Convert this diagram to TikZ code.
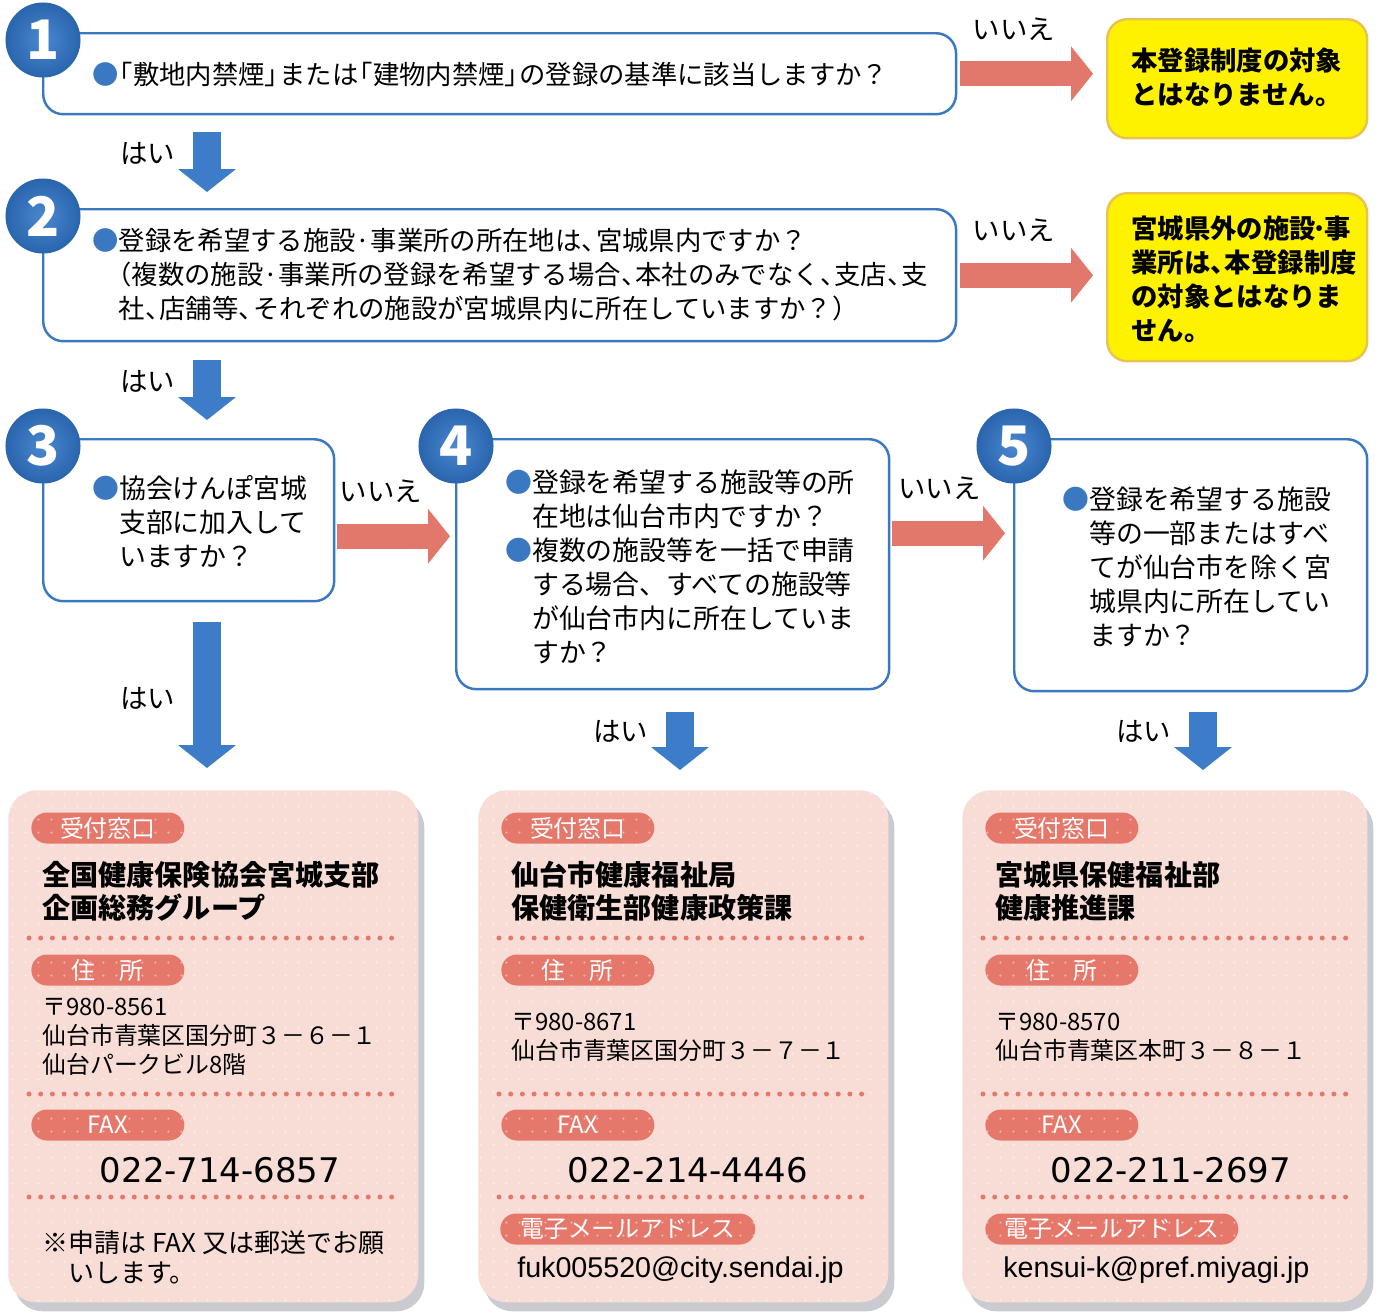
\documentclass[tikz,border=0pt]{standalone}
\usepackage{fontspec}
\setmainfont{Noto Sans CJK JP}
\newfontfamily\numfont{DejaVu Sans}
\newfontfamily\mailfont{Liberation Sans}
\usepackage{xcolor}
\usepackage{tikz}
\usetikzlibrary{calc,positioning,arrows.meta,shadows,patterns.meta}

\definecolor{qblue}{HTML}{3B78C2}
\definecolor{numblue}{HTML}{2A65AE}
\definecolor{numlight}{HTML}{4A88D0}
\definecolor{yesblue}{HTML}{3D7CC9}
\definecolor{nored}{HTML}{E2786C}
\definecolor{stopfill}{HTML}{FFF200}
\definecolor{stopline}{HTML}{E9C352}
\definecolor{deskfill}{HTML}{F8DDD6}
\definecolor{deskshadow}{HTML}{C9CBD0}
\definecolor{tagfill}{HTML}{E5786A}

\newcommand{\qmark}{{\color{qblue}●}}
\newcommand{\hk}{\hspace{-0.45em}}

\tikzset{
    qbox/.style={draw=qblue, line width=1.4pt, fill=white, rounded corners=0.4cm, anchor=north west, inner sep=0pt},
    stopbox/.style={draw=stopline, line width=1.4pt, fill=stopfill, rounded corners=0.4cm, anchor=north west, inner sep=0pt},
    numcirc/.style={circle, minimum size=1.48cm, inner sep=0pt, inner color=numlight, outer color=numblue, draw=numblue, line width=0.6pt, text=white, font=\fontsize{31}{31}\bfseries\selectfont},
    qtext/.style={anchor=west, align=left, inner sep=0pt, font=\fontsize{15}{19.3}\selectfont},
    qtextbig/.style={anchor=west, align=left, inner sep=0pt, font=\fontsize{15.3}{19.3}\selectfont},
    stoptext/.style={anchor=west, align=left, inner sep=0pt, font=\fontsize{15}{19.3}\bfseries\selectfont},
    ans/.style={inner sep=0pt, font=\fontsize{15.6}{15.6}\selectfont},
    yesarrow/.style={draw=yesblue, line width=0.56cm, -{Triangle[length=0.46cm, width=1.16cm, line width=0pt]}},
    noarrow/.style={draw=nored, line width=0.5cm, -{Triangle[length=0.44cm, width=1.1cm, line width=0pt]}},
    deskbox/.style={fill=deskfill, rounded corners=0.56cm, anchor=north west, inner sep=0pt, minimum height=10.24cm,
        drop shadow={shadow xshift=0.12cm, shadow yshift=-0.18cm, fill=deskshadow, opacity=1},
        postaction={pattern={Dots[distance=0.26cm, radius=0.022cm]}, pattern color=deskfill!45!white}},
    tag/.style={fill=tagfill, rounded corners=0.31cm, minimum height=0.62cm, minimum width=3.06cm, text=white, inner sep=0pt, anchor=west,
        font=\fontsize{13.6}{13.6}\selectfont,
        postaction={pattern={Dots[distance=0.26cm, radius=0.025cm]}, pattern color=tagfill!55!white}},
    dotline/.style={draw=tagfill, line width=0.1cm, line cap=round, dash pattern=on 0pt off 0.234cm},
    desktitle/.style={anchor=west, align=left, inner sep=0pt, font=\fontsize{16}{18.7}\bfseries\selectfont},
    deskaddr/.style={anchor=west, align=left, inner sep=0pt, font=\fontsize{13.6}{16.4}\selectfont},
    faxnum/.style={inner sep=0pt, font=\fontsize{19.3}{19.3}\numfont},
    mail/.style={anchor=west, inner sep=0pt, font=\fontsize{16.3}{16.3}\mailfont}
}

\begin{document}
\begin{tikzpicture}[x=0.02cm, y=-0.02cm]
    \useasboundingbox (0,0) rectangle (1377,1313);

    % Question boxes
    \node[qbox, minimum width=18.26cm, minimum height=1.62cm] (Box-1) at (42,32) {};
    \node[qbox, minimum width=18.26cm, minimum height=2.64cm] (Box-2) at (42,208) {};
    \node[qbox, minimum width=5.82cm, minimum height=3.24cm] (Box-3) at (42,438) {};
    \node[qbox, minimum width=8.66cm, minimum height=5.0cm] (Box-4) at (455,438) {};
    \node[qbox, minimum width=7.06cm, minimum height=5.04cm] (Box-5) at (1013,438) {};

    % Out of scope boxes
    \node[stopbox, minimum width=5.2cm, minimum height=2.38cm] (Stop-1) at (1106,18) {};
    \node[stopbox, minimum width=5.2cm, minimum height=3.36cm] (Stop-2) at (1106,192) {};

    % Question texts
    \node[qtext] (Text-1) at ($(Box-1.north west)+(50,42)$)
        {\qmark\hk「敷地内禁煙」\hk または\hk「建物内禁煙」\hk の登録の基準に該当しますか？};
    \node[qtext] (Text-2) at ($(Box-2.north west)+(50,67)$)
        {\qmark 登録を希望する施設·事業所の所在地は、\hk 宮城県内ですか？\\
         \hspace*{0.5em}（複数の施設·事業所の登録を希望する場合、\hk 本社のみでなく、\hk 支店、\hk 支\\
         　社、\hk 店舗等、\hk それぞれの施設が宮城県内に所在していますか？）};
    \node[qtextbig] (Text-3) at ($(Box-3.north west)+(50,84)$)
        {\qmark 協会けんぽ宮城\\　支部に加入して\\　いますか？};
    \node[qtextbig] (Text-4) at ($(Box-4.north west)+(50,129)$)
        {\qmark 登録を希望する施設等の所\\　在地は仙台市内ですか？\\
         \qmark 複数の施設等を一括で申請\\　する場合、すべての施設等\\
         　が仙台市内に所在していま\\　すか？};
    \node[qtextbig] (Text-5) at ($(Box-5.north west)+(49,129)$)
        {\qmark 登録を希望する施設\\　等の一部またはすべ\\　てが仙台市を除く宮\\
         　城県内に所在してい\\　ますか？};
    \node[stoptext] (StopText-1) at ($(Stop-1.north west)+(25,59)$)
        {本登録制度の対象\\とはなりません。};
    \node[stoptext] (StopText-2) at ($(Stop-2.north west)+(25,87)$)
        {宮城県外の施設\hspace{-0.15em}·\hspace{-0.15em}事\\業所は、\hk 本登録制度\\の対象とはなりま\\せん。};

    % Number circles
    \foreach \i in {1,...,5}
    {
        \node[numcirc] (Num-\i) at ($(Box-\i.north west)+(1,8)$) {\i};
    }

    % Desk boxes
    \node[deskbox, minimum width=8.2cm] (Desk-1) at (8,790) {};
    \node[deskbox, minimum width=8.2cm] (Desk-2) at (478,790) {};
    \node[deskbox, minimum width=8.1cm] (Desk-3) at (962,790) {};

    % No arrows
    \draw[noarrow, shorten <=0.06cm, shorten >=0.26cm] (Box-1.east) --
        node[ans, pos=0.38, above=0.42cm] (No-1) {いいえ} (Box-1.east -| Stop-1.west);
    \draw[noarrow, shorten <=0.06cm, shorten >=0.26cm] (Box-2.east) --
        node[ans, pos=0.38, above=0.42cm] (No-2) {いいえ} (Box-2.east -| Stop-2.west);
    \coordinate (N3) at ($(Box-3.east)+(0,16)$);
    \coordinate (N4) at ($(Box-4.east)+(0,-31)$);
    \draw[noarrow, shorten <=0.04cm, shorten >=0.1cm] (N3) --
        node[ans, pos=0.38, above=0.42cm] (No-3) {いいえ} (N3 -| Box-4.west);
    \draw[noarrow, shorten <=0.04cm, shorten >=0.16cm] (N4) --
        node[ans, pos=0.4, above=0.42cm] (No-4) {いいえ} (N4 -| Box-5.west);

    % Yes arrows
    \draw[yesarrow] ($(Box-1.south west)+(165,17)$) --
        node[ans, pos=0.35, left=0.36cm] (Yes-1) {はい} ($(Box-2.north west)+(165,-16)$);
    \draw[yesarrow] ($(Box-2.south west)+(165,18)$) --
        node[ans, pos=0.35, left=0.36cm] (Yes-2) {はい} ($(Box-3.north west)+(165,-18)$);
    \draw[yesarrow] ($(Box-3.south west)+(165,20)$) --
        node[ans, pos=0.52, left=0.36cm] (Yes-3) {はい} ($(Desk-1.north west)+(199,-22)$);
    \draw[yesarrow] ($(Box-4.south west)+(225,22)$) --
        node[ans, pos=0.33, left=0.36cm] (Yes-4) {はい} ($(Desk-2.north west)+(202,-20)$);
    \draw[yesarrow] ($(Box-5.south west)+(190,20)$) --
        node[ans, pos=0.33, left=0.36cm] (Yes-5) {はい} ($(Desk-3.north west)+(241,-20)$);

    % Desk tags and dotted rules
    \foreach \i in {1,2,3}
    {
        \node[tag] (Tag-\i-1) at ($(Desk-\i.north west)+(23,38)$) {受付窓口};
        \node[tag] (Tag-\i-2) at ($(Desk-\i.north west)+(23,180)$) {住　所};
        \node[tag] (Tag-\i-3) at ($(Desk-\i.north west)+(23,335)$) {FAX};
        \draw[dotline] ($(Desk-\i.north west)+(21,148)$) -- ++(370,0);
        \draw[dotline] ($(Desk-\i.north west)+(21,304)$) -- ++(370,0);
        \draw[dotline] ($(Desk-\i.north west)+(21,407)$) -- ++(370,0);
    }
    \node[tag, minimum width=5.1cm] (Tag-2-4) at ($(Desk-2.north west)+(22,439)$) {電子メールアドレス};
    \node[tag, minimum width=5.06cm] (Tag-3-4) at ($(Desk-3.north west)+(23,439)$) {電子メールアドレス};

    % Desk contents
    \node[desktitle] (Name-1) at ($(Desk-1.north west)+(34,101.5)$) {全国健康保険協会宮城支部\\企画総務グループ};
    \node[desktitle] (Name-2) at ($(Desk-2.north west)+(33,101.5)$) {仙台市健康福祉局\\保健衛生部健康政策課};
    \node[desktitle] (Name-3) at ($(Desk-3.north west)+(33,101.5)$) {宮城県保健福祉部\\健康推進課};

    \node[deskaddr] (Addr-1) at ($(Desk-1.north west)+(34,247)$) {〒980-8561\\仙台市青葉区国分町３－６－１\\仙台パークビル8階};
    \node[deskaddr] (Addr-2) at ($(Desk-2.north west)+(33,247.5)$) {〒980-8671\\仙台市青葉区国分町３－７－１};
    \node[deskaddr] (Addr-3) at ($(Desk-3.north west)+(33,247.5)$) {〒980-8570\\仙台市青葉区本町３－８－１};

    \node[faxnum] (Fax-1) at ($(Desk-1.north west)+(212,380)$) {022-714-6857};
    \node[faxnum] (Fax-2) at ($(Desk-2.north west)+(210,380)$) {022-214-4446};
    \node[faxnum] (Fax-3) at ($(Desk-3.north west)+(209,380)$) {022-211-2697};

    \node[deskaddr, font=\fontsize{14.8}{17}\selectfont] (Note-1) at ($(Desk-1.north west)+(34,467)$) {※申請は FAX 又は郵送でお願\\　いします。};
    \node[mail] (Mail-2) at ($(Desk-2.north west)+(39,480)$) {fuk005520@city.sendai.jp};
    \node[mail] (Mail-3) at ($(Desk-3.north west)+(41,480)$) {kensui-k@pref.miyagi.jp};

\end{tikzpicture}
\end{document}
